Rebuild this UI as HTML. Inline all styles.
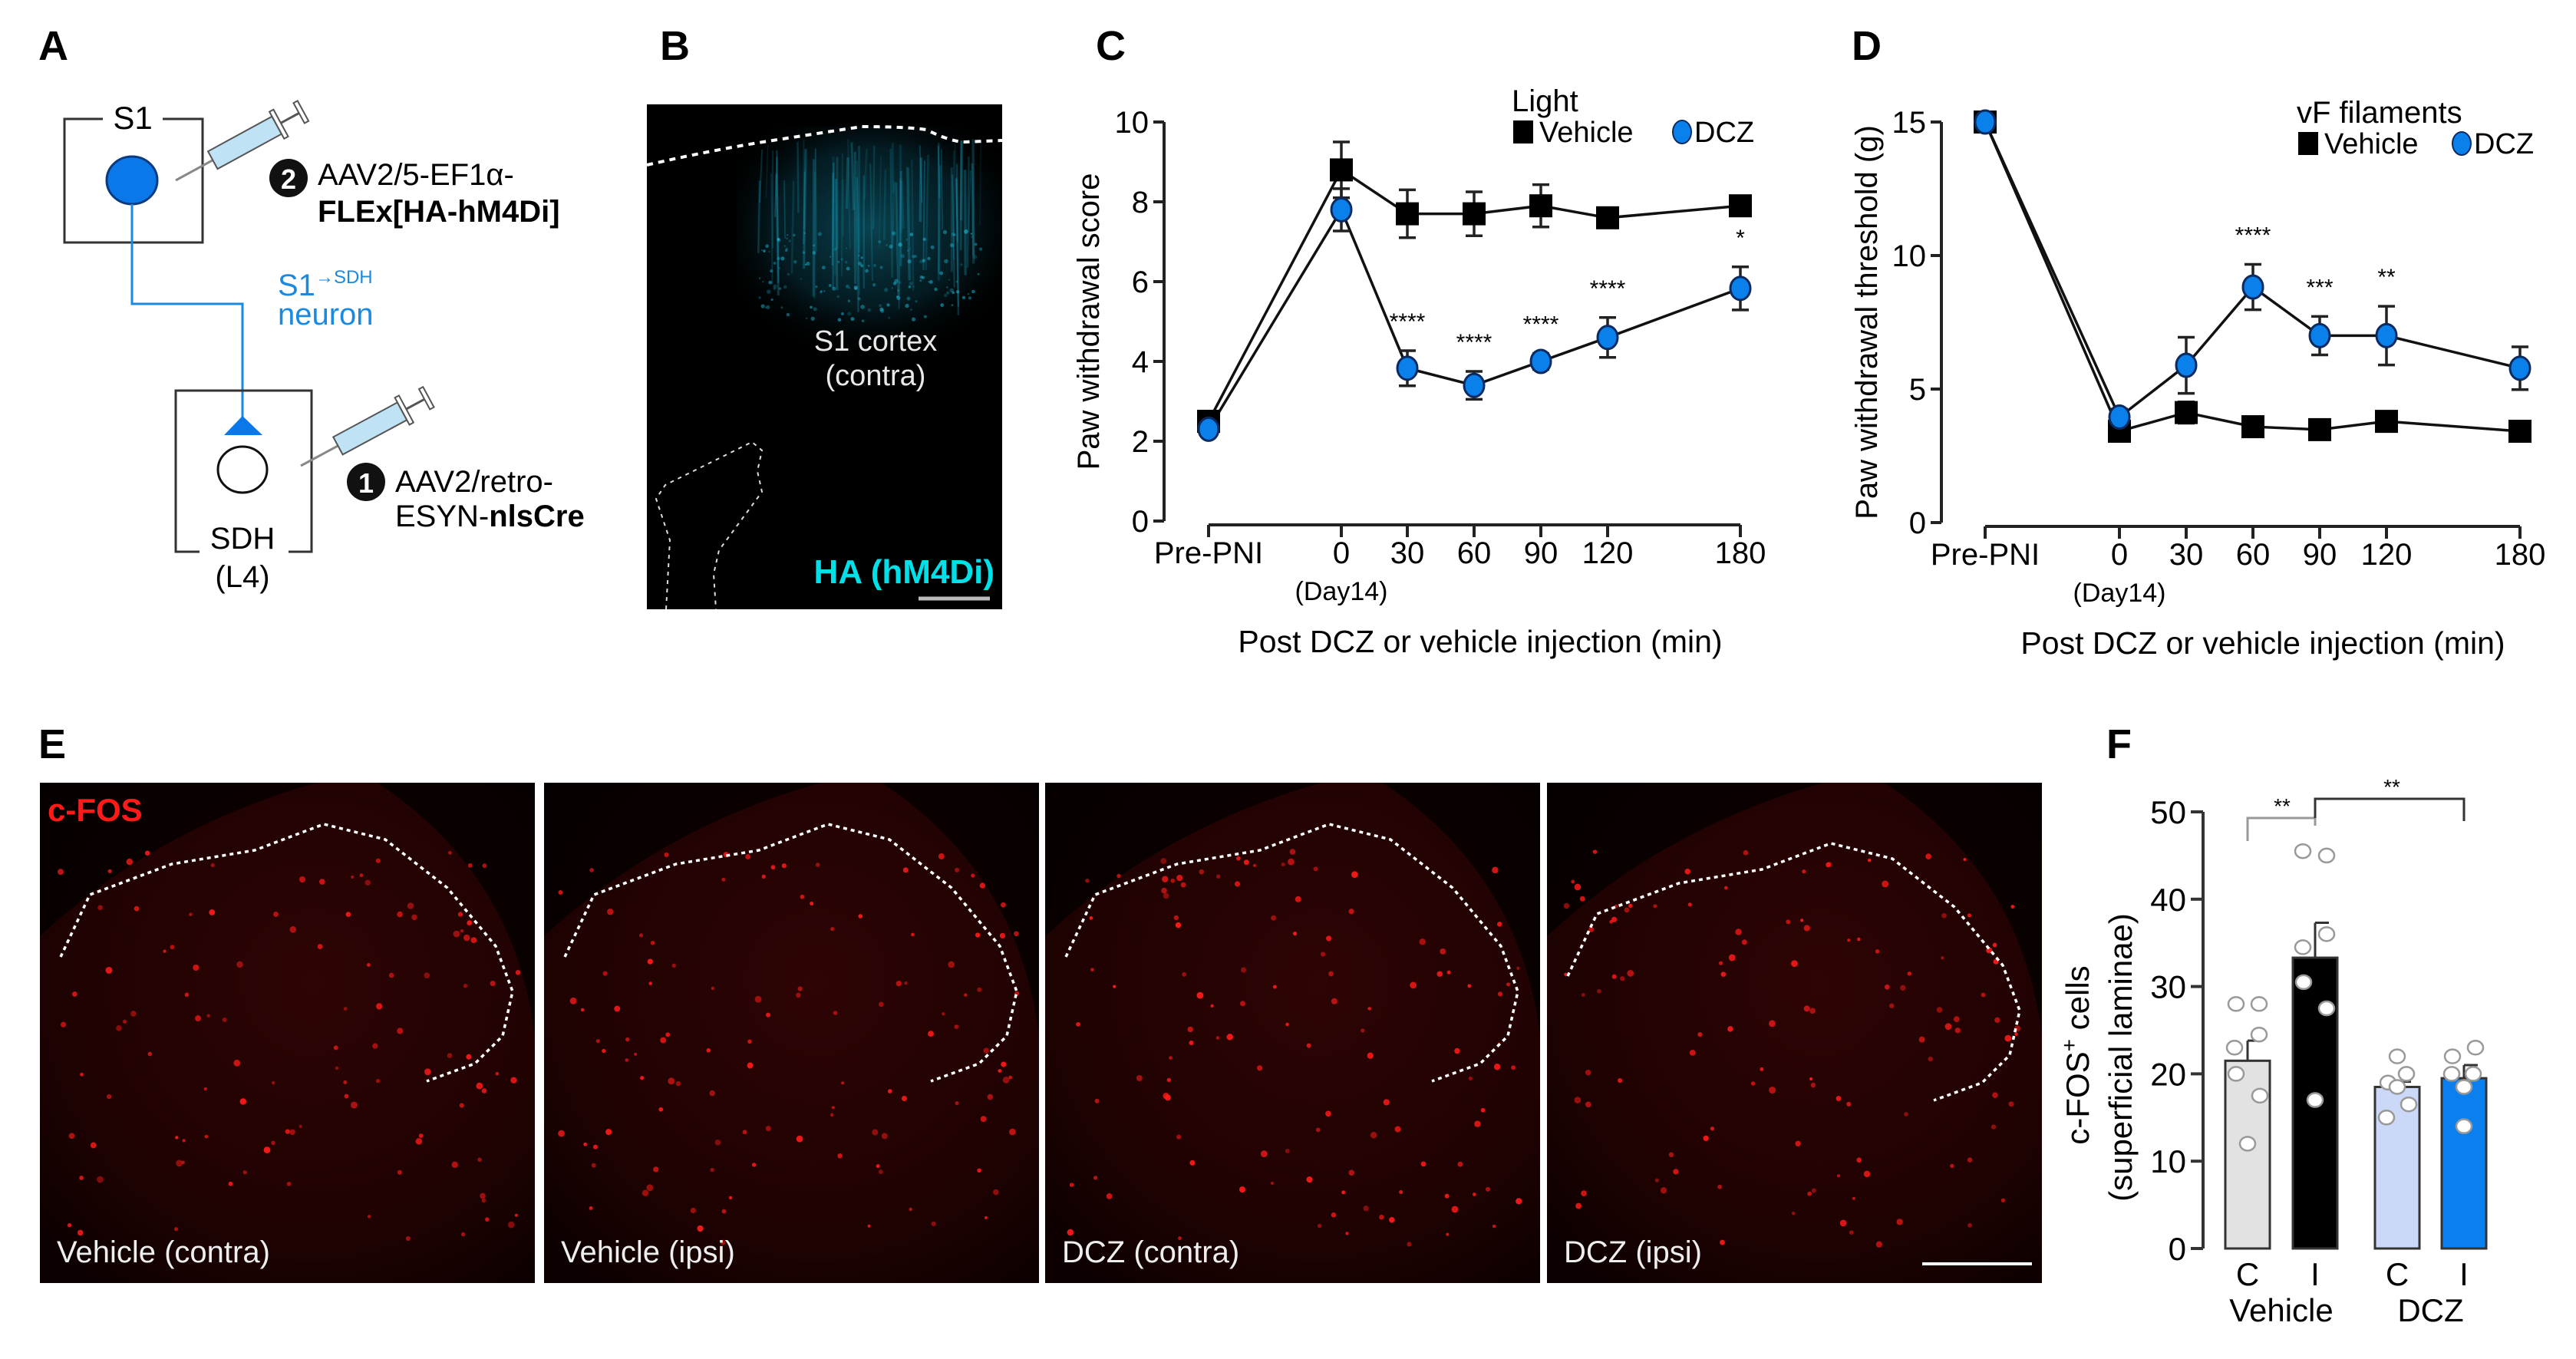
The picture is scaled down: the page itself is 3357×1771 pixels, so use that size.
<!DOCTYPE html>
<html><head><meta charset="utf-8"><style>
html,body{margin:0;padding:0;background:#fff;}
svg{display:block;font-family:"Liberation Sans",Arial,sans-serif;}
</style></head><body>
<svg id="fig" width="3357" height="1771" viewBox="0 0 3357 1771" xmlns="http://www.w3.org/2000/svg">
<defs>
<radialGradient id="cyanGlow" cx="0.5" cy="0.45" r="0.6">
<stop offset="0" stop-color="#0e5f72" stop-opacity="0.7"/>
<stop offset="0.6" stop-color="#083c4a" stop-opacity="0.45"/>
<stop offset="1" stop-color="#000" stop-opacity="0"/>
</radialGradient>
<radialGradient id="redGlow" cx="0.55" cy="0.4" r="0.75">
<stop offset="0" stop-color="#2e0404"/>
<stop offset="0.7" stop-color="#1e0202"/>
<stop offset="1" stop-color="#0c0000"/>
</radialGradient>
</defs>

<text x="50" y="78" font-size="54" font-weight="bold">A</text>
<text x="860" y="78" font-size="54" font-weight="bold">B</text>
<text x="1428" y="78" font-size="54" font-weight="bold">C</text>
<text x="2413" y="78" font-size="54" font-weight="bold">D</text>
<text x="50" y="988" font-size="54" font-weight="bold">E</text>
<text x="2745" y="988" font-size="54" font-weight="bold">F</text>

<g>
<path d="M134,155 H84 V316 H264 V155 H212" fill="none" stroke="#333" stroke-width="3"/>
<text x="173" y="168" font-size="42" text-anchor="middle">S1</text>
<ellipse cx="172" cy="235" rx="33" ry="31" fill="#0a78e8" stroke="#0a3a80" stroke-width="3"/>
<path d="M172,266 V396 H316 V545" fill="none" stroke="#1a8ae0" stroke-width="3"/>
<polygon points="316,542 292,567 342,567" fill="#0a78e8"/>
<path d="M260,719 H229 V509 H406 V719 H376" fill="none" stroke="#333" stroke-width="3"/>
<ellipse cx="316" cy="612" rx="32" ry="30" fill="#fff" stroke="#111" stroke-width="3"/>
<text x="316" y="715" font-size="40" text-anchor="middle">SDH</text>
<text x="316" y="765" font-size="40" text-anchor="middle">(L4)</text>
<text x="362" y="385" font-size="40" fill="#1a8ae0">S1<tspan font-size="24" dy="-16">→SDH</tspan></text>
<text x="362" y="423" font-size="40" fill="#1a8ae0">neuron</text>
<g transform="translate(229,235) rotate(-28.6)">
<line x1="0" y1="0" x2="55" y2="0" stroke="#888" stroke-width="3"/>
<rect x="55" y="-13" width="95" height="26" fill="#bfe3f5" stroke="#555" stroke-width="2"/>
<line x1="150" y1="0" x2="185" y2="0" stroke="#555" stroke-width="3"/>
<rect x="150" y="-20" width="6" height="40" fill="#fff" stroke="#555" stroke-width="2"/>
<rect x="183" y="-15" width="6" height="30" fill="#fff" stroke="#555" stroke-width="2"/>
</g>
<g transform="translate(392,607) rotate(-28.3)">
<line x1="0" y1="0" x2="55" y2="0" stroke="#888" stroke-width="3"/>
<rect x="55" y="-13" width="95" height="26" fill="#bfe3f5" stroke="#555" stroke-width="2"/>
<line x1="150" y1="0" x2="185" y2="0" stroke="#555" stroke-width="3"/>
<rect x="150" y="-20" width="6" height="40" fill="#fff" stroke="#555" stroke-width="2"/>
<rect x="183" y="-15" width="6" height="30" fill="#fff" stroke="#555" stroke-width="2"/>
</g>
<circle cx="376" cy="232" r="25" fill="#111"/>
<text x="376" y="246" font-size="36" font-weight="bold" fill="#fff" text-anchor="middle">2</text>
<text x="414" y="241" font-size="40">AAV2/5-EF1α-</text>
<text x="414" y="289" font-size="40" font-weight="bold">FLEx[HA-hM4Di]</text>
<circle cx="477" cy="628" r="25" fill="#111"/>
<text x="477" y="642" font-size="36" font-weight="bold" fill="#fff" text-anchor="middle">1</text>
<text x="515" y="641" font-size="40">AAV2/retro-</text>
<text x="515" y="686" font-size="40">ESYN-<tspan font-weight="bold">nlsCre</tspan></text>
</g>

<g>
<rect x="843" y="136" width="463" height="658" fill="#000"/>
<rect x="960" y="165" width="346" height="290" fill="url(#cyanGlow)"/>
<g id="cyanStreaks"></g>
<path d="M843,215 Q930,195 1007,183 T1123,165 Q1180,165 1207,169 Q1240,185 1257,185 L1306,183" fill="none" stroke="#fff" stroke-width="4" stroke-dasharray="8 7"/>
<path d="M868,794 L873,704 L855,650 L867,632 L980,576 L993,587 L987,614 L993,641 L937,717 L930,748 L933,794" fill="none" stroke="#ddd" stroke-width="2" stroke-dasharray="5 6"/>
<text x="1141" y="457" font-size="38" fill="#e8e8e8" text-anchor="middle">S1 cortex</text>
<text x="1141" y="502" font-size="38" fill="#e8e8e8" text-anchor="middle">(contra)</text>
<text x="1296" y="760" font-size="44" font-weight="bold" fill="#00e0e8" text-anchor="end">HA (hM4Di)</text>
<line x1="1197" y1="780" x2="1290" y2="780" stroke="#bbb" stroke-width="5"/>
</g>

<g id="chartC"></g>
<g id="chartD"></g>
<g id="panelE"></g>
<g id="chartF"></g>
</svg>
<script>
const timeLabels = ["Pre-PNI","0","30","60","90","120","180"];
const cVehicle = [2.5, 8.8, 7.7, 7.7, 7.9, 7.6, 7.9];
const cVehicleErr = [0.1, 0.7, 0.6, 0.55, 0.53, 0.12, 0.25];
const cDCZ = [2.3, 7.8, 3.83, 3.4, 4.0, 4.6, 5.83];
const cDCZErr = [0.1, 0.53, 0.44, 0.35, 0.2, 0.5, 0.54];
const cStars = ["", "", "****", "****", "****", "****", "*"];
const cYTicks = [0, 2, 4, 6, 8, 10];
const dVehicle = [15, 3.42, 4.12, 3.59, 3.48, 3.79, 3.42];
const dVehicleErr = [0.2, 0.2, 0.4, 0.15, 0.15, 0.2, 0.15];
const dDCZ = [15, 3.95, 5.89, 8.82, 7.0, 7.0, 5.78];
const dDCZErr = [0.2, 0.3, 1.05, 0.85, 0.72, 1.1, 0.8];
const dStars = ["", "", "", "****", "***", "**", ""];
const dYTicks = [0, 5, 10, 15];
const fGroups = ["C","I","C","I"];
const fMeans = [21.5, 33.3, 18.5, 19.5];
const fSEM = [2.3, 4.0, 0.6, 1.5];
const fPoints = [[28,28,24.5,23,20,17.5,12],[45.5,45,36,34.5,30.5,27.5,17],[22,20,19,18.5,16.5,15],[23,22,20,20,18.5,14]];
const fYTicks = [0,10,20,30,40,50];

const NS="http://www.w3.org/2000/svg";
function mk(parent, tag, attrs, text){
  const e=document.createElementNS(NS,tag);
  for(const k in attrs) e.setAttribute(k,attrs[k]);
  if(text!==undefined) e.textContent=text;
  parent.appendChild(e); return e;
}

function lineChart(g, o){
  const xPos = i => o.xs[i];
  const yPos = v => o.y0 - v * (o.y0 - o.yTop) / o.yMax;
  let e = mk(g,'line',{x1:o.ax,y1:yPos(o.yMax),x2:o.ax,y2:o.y0,stroke:'#222','stroke-width':4});
   
  o.yTicks.forEach(t=>{
    mk(g,'line',{x1:o.ax-14,y1:yPos(t),x2:o.ax,y2:yPos(t),stroke:'#222','stroke-width':4});
    e = mk(g,'text',{x:o.ax-20,y:yPos(t)+14,'font-size':40,'text-anchor':'end'},String(t));
     
  });
  e = mk(g,'line',{x1:xPos(0),y1:o.xAxisY,x2:xPos(6),y2:o.xAxisY,stroke:'#222','stroke-width':4});
   
  timeLabels.forEach((l,i)=>{
    mk(g,'line',{x1:xPos(i),y1:o.xAxisY,x2:xPos(i),y2:o.xAxisY+16,stroke:'#222','stroke-width':4});
    e = mk(g,'text',{x:xPos(i),y:o.xAxisY+50,'font-size':40,'text-anchor':'middle'},l);
     
  });
  e = mk(g,'text',{x:xPos(1),y:o.xAxisY+98,'font-size':34,'text-anchor':'middle'},'(Day14)');
   
  e = mk(g,'text',{x:o.titleX,y:o.xAxisY+166,'font-size':41,'text-anchor':'middle'},'Post DCZ or vehicle injection (min)');
   
  e = mk(g,'text',{x:0,y:0,'font-size':40,'text-anchor':'middle',transform:`translate(${o.ytX},${(yPos(o.yMax)+o.y0)/2}) rotate(-90)`},o.yTitle);
   
  const series=[{v:o.veh,err:o.vehErr,name:'vehicle'},{v:o.dcz,err:o.dczErr,name:'dcz'}];
  series.forEach(s=>{
    const pts=s.v.map((v,i)=>xPos(i)+','+yPos(v)).join(' ');
    e = mk(g,'polyline',{points:pts,fill:'none',stroke:'#111','stroke-width':3.5});
     
  });
  series.forEach(s=>{
    s.v.forEach((v,i)=>{
      const x=xPos(i), yt=yPos(v+s.err[i]), yb=yPos(v-s.err[i]);
      e = mk(g,'path',{d:`M${x},${yt}V${yb}M${x-11},${yt}H${x+11}M${x-11},${yb}H${x+11}`,stroke:'#222','stroke-width':3.5,fill:'none'});
       
    });
  });
  o.veh.forEach((v,i)=>{
    e = mk(g,'rect',{x:xPos(i)-15,y:yPos(v)-15,width:30,height:30,fill:'#000'});
     
  });
  o.dcz.forEach((v,i)=>{
    e = mk(g,'ellipse',{cx:xPos(i),cy:yPos(v),rx:13,ry:15,fill:'#0a80ea',stroke:'#0a2a60','stroke-width':3});
     
  });
  o.stars.forEach((s,i)=>{
    if(!s) return;
    const top = o.dcz[i]+o.dczErr[i];
    e = mk(g,'text',{x:xPos(i),y:yPos(top)-28,'font-size':30,'text-anchor':'middle'},s);
     
  });
  e = mk(g,'text',{x:o.legX,y:o.legY-40,'font-size':40},o.legTitle);
   
  e = mk(g,'rect',{x:o.legX+2,y:o.legY-28,width:26,height:30,fill:'#000'});
   
  e = mk(g,'text',{x:o.legX+36,y:o.legY,'font-size':38},'Vehicle');
   
  e = mk(g,'ellipse',{cx:o.legX+o.dczOff,cy:o.legY-13,rx:12,ry:15,fill:'#0a80ea',stroke:'#0a2a60','stroke-width':2});
   
  e = mk(g,'text',{x:o.legX+o.dczOff+16,y:o.legY,'font-size':38},'DCZ');
   
}

lineChart(document.getElementById('chartC'),{
  xs:[1575,1748,1834,1921,2008,2095,2268], ax:1517, y0:679, yTop:159, yMax:10, xAxisY:684,
  yTicks:cYTicks, veh:cVehicle, vehErr:cVehicleErr, dcz:cDCZ, dczErr:cDCZErr, stars:cStars,
  titleX:1929, ytX:1432, yTitle:'Paw withdrawal score',
  legX:1970, legY:185, legTitle:'Light', dczOff:222
});
lineChart(document.getElementById('chartD'),{
  xs:[2587,2762,2849,2936,3023,3110,3284], ax:2530, y0:681, yTop:159, yMax:15, xAxisY:686,
  yTicks:dYTicks, veh:dVehicle, vehErr:dVehicleErr, dcz:dDCZ, dczErr:dDCZErr, stars:dStars,
  titleX:2949, ytX:2446, yTitle:'Paw withdrawal threshold (g)',
  legX:2993, legY:200, legTitle:'vF filaments', dczOff:215
});

(function(){
  const g=document.getElementById('cyanStreaks');
  let s=7; const r=()=>{s=(s*16807)%2147483647;return s/2147483647;};
  for(let i=0;i<70;i++){
    const x=990+r()*290, y=180+r()*60, h=60+r()*120;
    mk(g,'line',{x1:x,y1:y,x2:x+(r()-0.5)*6,y2:y+h,stroke:'#1aa8c8','stroke-opacity':0.12+r()*0.2,'stroke-width':1.5+r()*2});
  }
  for(let i=0;i<160;i++){
    mk(g,'circle',{cx:990+r()*290,cy:300+r()*120,r:1+r()*1.8,fill:'#20c0e0','fill-opacity':0.2+r()*0.35});
  }
})();

(function(){
  const g=document.getElementById('panelE');
  const panels=[[52,'Vehicle (contra)'],[709,'Vehicle (ipsi)'],[1362,'DCZ (contra)'],[2016,'DCZ (ipsi)']];
  const outline=[[27,227],[65,146],[172,106],[280,88],[370,54],[450,74],[531,137],[594,213],[616,272],[603,330],[567,366],[504,389]];
  let s=12345; const r=()=>{s=(s*16807)%2147483647;return s/2147483647;};
  panels.forEach((p,k)=>{
    const x0=p[0], y0=1020, w=645, h=652;
    let e=mk(g,'rect',{x:x0,y:y0,width:w,height:h,fill:'url(#redGlow)'});
     
    mk(g,'path',{d:`M${x0},${y0} H${x0+360} Q${x0+150},${y0+60} ${x0},${y0+200} Z`,fill:'#000','fill-opacity':0.7});
    mk(g,'path',{d:`M${x0+440},${y0} H${x0+w} V${y0+330} Q${x0+620},${y0+120} ${x0+440},${y0}Z`,fill:'#000','fill-opacity':0.7});
    for(let i=0;i<110;i++){
      mk(g,'circle',{cx:x0+20+r()*(w-40),cy:y0+90+r()*(h-140),r:2+r()*2.5,fill:'#ff1a1a','fill-opacity':0.45+r()*0.5});
    }
    const pts=outline.map(q=>(x0+q[0])+','+(y0+q[1]+(k===3?25:0))).join(' ');
    e=mk(g,'polyline',{points:pts,fill:'none',stroke:'#fff','stroke-width':3.5,'stroke-dasharray':'5 5'});
     
    e=mk(g,'text',{x:x0+22,y:y0+625,'font-size':40,fill:'#eee'},p[1]);
     
  });
  let e=mk(g,'text',{x:62,y:1070,'font-size':42,'font-weight':'bold',fill:'#ff1a1a'},'c-FOS');
   
  e=mk(g,'line',{x1:2505,y1:1647,x2:2648,y2:1647,stroke:'#fff','stroke-width':4});
   
})();

(function(){
  const g=document.getElementById('chartF');
  const ax=2871, y0=1627, yTop=1058, yMax=50;
  const yPos=v=>y0-v*(y0-yTop)/yMax;
  const barX=[2929,3017,3124,3211], bw=58;
  const fills=['#e2e2e2','#000','#cbd8f8','#0a80ee'];
  const dotOff=[[-15,15,15,-17,-15,16,0],[-16,15,15,-16,-15,15,0],[0,12,-12,0,15,-14],[15,-15,-16,12,0,0]];
  let e=mk(g,'line',{x1:ax,y1:yTop,x2:ax,y2:y0,stroke:'#333','stroke-width':4});
   
  fYTicks.forEach(t=>{
    mk(g,'line',{x1:ax-16,y1:yPos(t),x2:ax,y2:yPos(t),stroke:'#333','stroke-width':4});
    e=mk(g,'text',{x:ax-22,y:yPos(t)+15,'font-size':42,'text-anchor':'end'},String(t));
     
  });
  fMeans.forEach((m,i)=>{
    const cx=barX[i];
    e=mk(g,'line',{x1:cx,y1:yPos(m),x2:cx,y2:yPos(m+fSEM[i]),stroke:'#333','stroke-width':3});
     
    mk(g,'line',{x1:cx,y1:yPos(m+fSEM[i]),x2:cx+18,y2:yPos(m+fSEM[i]),stroke:'#333','stroke-width':3});
    e=mk(g,'rect',{x:cx-bw/2,y:yPos(m),width:bw,height:y0-yPos(m),fill:fills[i],stroke:'#333','stroke-width':3});
     
    fPoints[i].forEach((v,j)=>{
      e=mk(g,'ellipse',{cx:cx+dotOff[i][j],cy:yPos(v),rx:10,ry:9,fill:'#fff',stroke:'#999','stroke-width':2.5});
       
    });
    e=mk(g,'text',{x:cx,y:1675,'font-size':42,'text-anchor':'middle'},fGroups[i]);
     
  });
  e=mk(g,'text',{x:(barX[0]+barX[1])/2,y:1722,'font-size':42,'text-anchor':'middle'},'Vehicle');
   
  e=mk(g,'text',{x:(barX[2]+barX[3])/2,y:1722,'font-size':42,'text-anchor':'middle'},'DCZ');
   
  e=mk(g,'path',{d:`M${barX[0]},1096 V1066 H${barX[1]} V1076`,fill:'none',stroke:'#999','stroke-width':3});
   
  e=mk(g,'text',{x:2974,y:1060,'font-size':28,'text-anchor':'middle'},'**');
   
  e=mk(g,'path',{d:`M${barX[1]},1066 V1041 H${barX[3]} V1070`,fill:'none',stroke:'#333','stroke-width':3});
   
  e=mk(g,'text',{x:3117,y:1035,'font-size':28,'text-anchor':'middle'},'**');
   
  e=mk(g,'text',{x:0,y:0,'font-size':42,'text-anchor':'middle',transform:'translate(2722,1375) rotate(-90)'});
   
  e.innerHTML='c-FOS<tspan font-size="28" dy="-16">+</tspan><tspan dy="16"> cells</tspan>';
  e=mk(g,'text',{x:0,y:0,'font-size':42,'text-anchor':'middle',transform:'translate(2778,1378) rotate(-90)'},'(superficial laminae)');
   
})();
</script>
</body></html>
